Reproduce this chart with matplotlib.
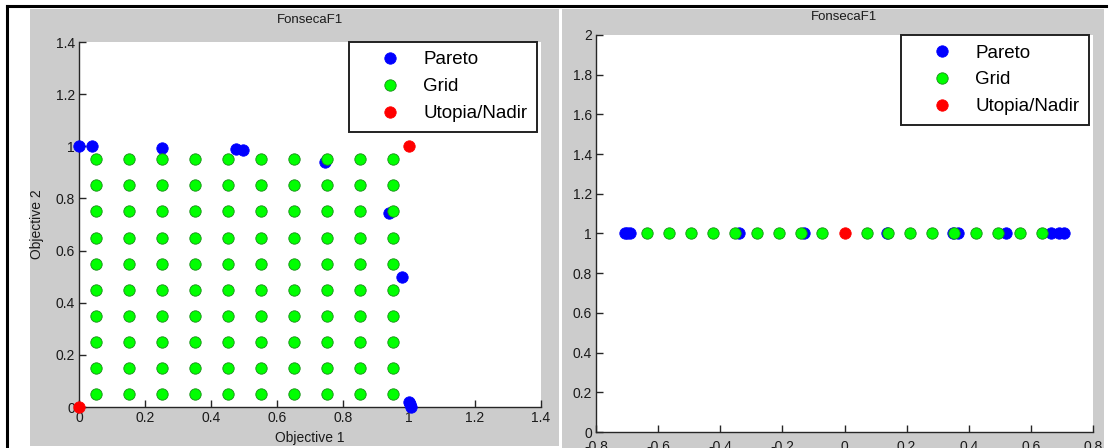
import matplotlib
matplotlib.use("Agg")
import matplotlib.pyplot as plt
from matplotlib.patches import Rectangle
from matplotlib.lines import Line2D

plt.rcParams['font.family'] = ['Liberation Sans', 'DejaVu Sans']

# ---------------- data ----------------
title = "FonsecaF1"
series_names = ["Pareto", "Grid", "Utopia/Nadir"]

# left panel
left_grid_x = [0.05, 0.15, 0.25, 0.35, 0.45, 0.55, 0.65, 0.75, 0.85, 0.95]
left_grid_y = [0.05, 0.15, 0.25, 0.35, 0.45, 0.55, 0.65, 0.75, 0.85, 0.95]
left_pareto_x = [0.0, 0.04, 0.25, 0.476, 0.497, 0.745, 0.94, 0.98, 1.0, 1.003, 1.006]
left_pareto_y = [1.0, 1.0, 0.995, 0.99, 0.985, 0.94, 0.745, 0.50, 0.02, 0.01, 0.0]
left_utopia_x = [0.0, 1.0]
left_utopia_y = [0.0, 1.0]
left_ticks = [0, 0.2, 0.4, 0.6, 0.8, 1.0, 1.2, 1.4]
left_ticklabels = ['0', '0.2', '0.4', '0.6', '0.8', '1', '1.2', '1.4']

# right panel
right_grid_x = [-0.636, -0.566, -0.495, -0.424, -0.354, -0.283, -0.212, -0.141, -0.071,
                0.071, 0.141, 0.212, 0.283, 0.354, 0.424, 0.495, 0.566, 0.636]
right_grid_y = [1.0] * 18
right_pareto_x = [-0.707, -0.70, -0.69, -0.34, -0.13, 0.137, 0.35, 0.365, 0.52, 0.665, 0.69, 0.707]
right_pareto_y = [1.0] * 12
right_utopia_x = [0.0]
right_utopia_y = [1.0]
right_xticks = [-0.8, -0.6, -0.4, -0.2, 0, 0.2, 0.4, 0.6, 0.8]
right_xticklabels = ['-0.8', '-0.6', '-0.4', '-0.2', '0', '0.2', '0.4', '0.6', '0.8']
right_yticks = [0, 0.2, 0.4, 0.6, 0.8, 1.0, 1.2, 1.4, 1.6, 1.8, 2.0]
right_yticklabels = ['0', '0.2', '0.4', '0.6', '0.8', '1', '1.2', '1.4', '1.6', '1.8', '2']

# ---------------- figure ----------------
W, H = 1111, 448
fig = plt.figure(figsize=(W / 100, H / 100), dpi=100)
fig.patch.set_facecolor('white')

def fx(px):
    return px / W

def fy(py):
    return 1 - py / H

gray = '#cccccc'
fig.patches.append(Rectangle((fx(30), fy(446)), fx(559) - fx(30), fy(9) - fy(446),
                             transform=fig.transFigure, facecolor=gray, edgecolor='none', zorder=-5))
fig.patches.append(Rectangle((fx(562), fy(448)), fx(1104) - fx(562), fy(9) - fy(448),
                             transform=fig.transFigure, facecolor=gray, edgecolor='none', zorder=-5))
fig.lines.append(Line2D([fx(7), fx(1106)], [fy(6), fy(6)], transform=fig.transFigure,
                        color='black', lw=2.2))
fig.lines.append(Line2D([fx(7), fx(7)], [fy(6), 0], transform=fig.transFigure,
                        color='black', lw=2.2))

ax1 = fig.add_axes([fx(79), fy(407), fx(541) - fx(79), fy(42) - fy(407)])
ax2 = fig.add_axes([fx(596), fy(432), fx(1093) - fx(596), fy(35) - fy(432)])

ms = 8.2
styles = dict(
    Pareto=dict(color='#0000ff', mec='#0000ff'),
    Grid=dict(color='#00ff00', mec='#1a8c1a'),
    Utopia=dict(color='#ff0000', mec='#ff0000'),
)

def draw(ax, px, py, gx, gy, ux, uy):
    ax.plot(px, py, 'o', ms=ms, mfc=styles['Pareto']['color'], mec=styles['Pareto']['mec'],
            mew=0.6, ls='none', label=series_names[0], clip_on=False, zorder=3)
    ax.plot(gx, gy, 'o', ms=ms, mfc=styles['Grid']['color'], mec=styles['Grid']['mec'],
            mew=0.6, ls='none', label=series_names[1], clip_on=False, zorder=4)
    ax.plot(ux, uy, 'o', ms=ms, mfc=styles['Utopia']['color'], mec=styles['Utopia']['mec'],
            mew=0.6, ls='none', label=series_names[2], clip_on=False, zorder=5)

# left
gxs = [x for x in left_grid_x for _ in left_grid_y]
gys = [y for _ in left_grid_x for y in left_grid_y]
draw(ax1, left_pareto_x, left_pareto_y, gxs, gys, left_utopia_x, left_utopia_y)
ax1.set_xlim(0, 1.4)
ax1.set_ylim(0, 1.4)
ax1.set_xticks(left_ticks)
ax1.set_xticklabels(left_ticklabels)
ax1.set_yticks(left_ticks)
ax1.set_yticklabels(left_ticklabels)
ax1.set_xlabel('Objective 1', fontsize=10, va='center', color='#1a1a1a')
ax1.xaxis.set_label_coords(0.5, -0.085)
ax1.set_ylabel('Objective 2', fontsize=10, va='center', color='#1a1a1a')
ax1.yaxis.set_label_coords(-0.091, 0.5)
ax1.text(0.5, 1.060, title, transform=ax1.transAxes, ha='center', va='center', fontsize=9.5,
         color='#1a1a1a')

# right
draw(ax2, right_pareto_x, right_pareto_y, right_grid_x, right_grid_y, right_utopia_x, right_utopia_y)
ax2.set_xlim(-0.8, 0.8)
ax2.set_ylim(0, 2)
ax2.set_xticks(right_xticks)
ax2.set_xticklabels(right_xticklabels)
ax2.set_yticks(right_yticks)
ax2.set_yticklabels(right_yticklabels)
ax2.text(0.5, 1.045, title, transform=ax2.transAxes, ha='center', va='center', fontsize=9.5,
         color='#1a1a1a')

for ax, wpx in ((ax1, 462), (ax2, 497)):
    ax.set_facecolor('white')
    for s in ('top', 'right'):
        ax.spines[s].set_visible(False)
    for s in ('left', 'bottom'):
        ax.spines[s].set_color('#262626')
        ax.spines[s].set_linewidth(1.0)
    ax.tick_params(direction='in', length=5, width=1.0, color='#262626',
                   labelsize=10, labelcolor='#1a1a1a', pad=3)
    leg = ax.legend(loc='upper right', bbox_to_anchor=(1 - 4 / wpx, 1.0), borderaxespad=0,
                    fontsize=13.5, frameon=True, fancybox=False, framealpha=1,
                    borderpad=0.5, handlelength=3.4, handletextpad=0.1, labelspacing=0.52,
                    numpoints=1)
    leg.get_frame().set_edgecolor('#222222')
    leg.get_frame().set_linewidth(1.4)
    leg.set_zorder(10)

ax2.tick_params(axis='x', pad=6)

fig.savefig('out.png', dpi=100)
